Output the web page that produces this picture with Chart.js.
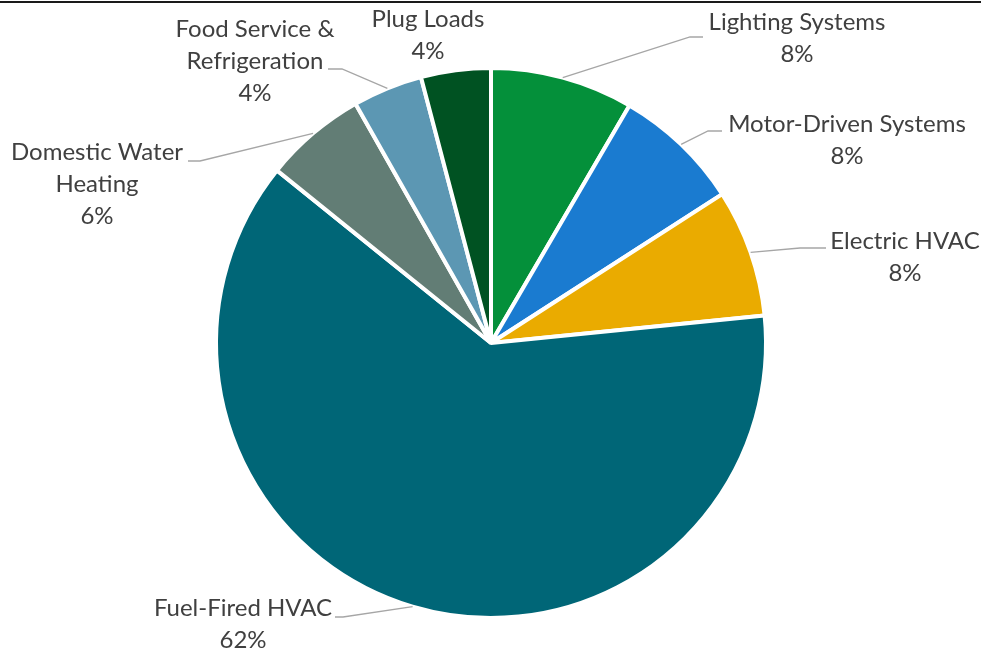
<!DOCTYPE html>
<html>
<head>
<meta charset="utf-8">
<script src="https://cdn.jsdelivr.net/npm/chart.js@4.4.1/dist/chart.umd.min.js"></script>
<style>
  html, body { margin: 0; padding: 0; background: #fff; }
  #wrap { position: relative; width: 981px; height: 654px; overflow: hidden; }
  #topRule { position: absolute; left: 0; top: 1px; width: 981px; height: 2px; background: #1a1a1a; }
  canvas { position: absolute; left: 0; top: 0; }
</style>
</head>
<body>
<div id="wrap">
  <canvas id="pieChart" width="981" height="654"></canvas>
  <div id="topRule"></div>
</div>
<script>
// categories, clockwise from 12 o'clock
const categories = [
  ["Lighting Systems"],
  ["Motor-Driven Systems"],
  ["Electric HVAC"],
  ["Fuel-Fired HVAC"],
  ["Domestic Water", "Heating"],
  ["Food Service &", "Refrigeration"],
  ["Plug Loads"],
];
// share of energy use, %
const shares = [8.4, 7.5, 7.5, 62.4, 6.0, 4.1, 4.1];
const sliceColors = ["#04903a", "#1a7bd0", "#eaab00", "#006677", "#627d75", "#5c97b3", "#005222"];

// label layout: text centre, and where the leader line ends (null = no leader)
const labelLayout = [
  { x: 797, y: 22, elbow: [690, 37], end: [703, 37] },
  { x: 847, y: 124, elbow: [708, 131], end: [722, 131] },
  { x: 905, y: 241, elbow: [800, 248], end: [826, 248] },
  { x: 243, y: 608, elbow: [343, 617], end: [335, 617] },
  { x: 97, y: 152, elbow: [200, 161], end: [188, 161] },
  { x: 255, y: 29, elbow: [342, 69], end: [328, 69] },
  { x: 428, y: 19, elbow: null, end: null },
];

const calloutLabels = {
  id: "calloutLabels",
  afterDatasetsDraw(chart) {
    const ctx = chart.ctx;
    const arcs = chart.getDatasetMeta(0).data;
    ctx.save();
    arcs.forEach((arc, i) => {
      const lay = labelLayout[i];
      const p = arc.getProps(["x", "y", "startAngle", "endAngle", "outerRadius"], true);
      const mid = (p.startAngle + p.endAngle) / 2;
      const r = p.outerRadius;

      if (lay.elbow) {
        ctx.strokeStyle = "#a6a6a6";
        ctx.lineWidth = 1.3;
        ctx.beginPath();
        ctx.moveTo(p.x + Math.cos(mid) * r, p.y + Math.sin(mid) * r);
        ctx.lineTo(lay.elbow[0], lay.elbow[1]);
        ctx.lineTo(lay.end[0], lay.end[1]);
        ctx.stroke();
      }

      const lines = categories[i].concat([Math.round(shares[i]) + "%"]);
      ctx.fillStyle = "#404040";
      ctx.font = "24px Lato";
      ctx.textAlign = "center";
      ctx.textBaseline = "middle";
      lines.forEach((t, k) => {
        ctx.fillText(t, lay.x, lay.y + k * 32);
      });
    });
    ctx.restore();
  },
};

new Chart(document.getElementById("pieChart").getContext("2d"), {
  type: "pie",
  data: {
    labels: categories.map((c) => c.join(" ")),
    datasets: [
      {
        data: shares,
        backgroundColor: sliceColors,
        borderColor: "#ffffff",
        borderWidth: 4,
      },
    ],
  },
  options: {
    responsive: false,
    animation: false,
    devicePixelRatio: 1,
    layout: {
      padding: { left: 214, right: 213, top: 66, bottom: 34 },
    },
    plugins: {
      legend: { display: false },
      tooltip: { enabled: false },
    },
  },
  plugins: [calloutLabels],
});
</script>
</body>
</html>
